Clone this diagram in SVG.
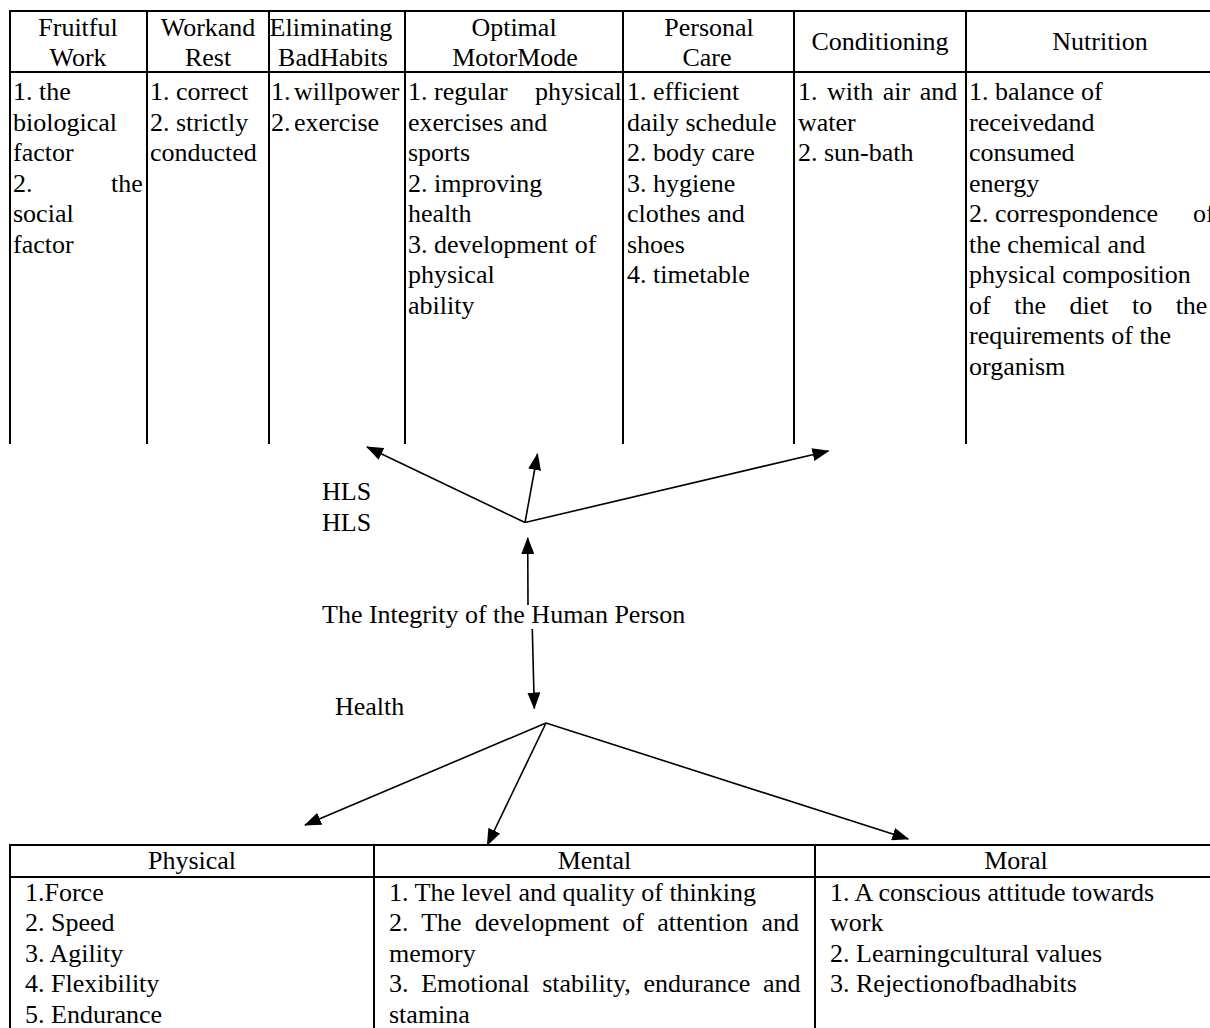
<svg xmlns="http://www.w3.org/2000/svg" width="1210" height="1028" viewBox="0 0 1210 1028">
<style>
text{font-family:"Liberation Serif","Times New Roman",serif;font-size:26px;fill:#000}
.c{text-anchor:middle}
.grid{stroke:#000;stroke-width:2;fill:none}
.conn{stroke:#000;stroke-width:1.6;fill:none;marker-end:url(#ah)}
</style>
<defs>
<marker id="ah" markerUnits="userSpaceOnUse" markerWidth="17" markerHeight="13" refX="16" refY="6.5" orient="auto">
<path d="M0,0 L17,6.5 L0,13 z" fill="#000"/>
</marker>
</defs>
<rect width="1210" height="1028" fill="#fff"/>

<g id="top-table">
<g class="grid">
<line x1="9" y1="11" x2="1210" y2="11"/>
<line x1="9" y1="72" x2="1210" y2="72"/>
<line x1="10" y1="10" x2="10" y2="444"/>
<line x1="147" y1="10" x2="147" y2="444"/>
<line x1="269" y1="10" x2="269" y2="444"/>
<line x1="405" y1="10" x2="405" y2="444"/>
<line x1="623" y1="10" x2="623" y2="444"/>
<line x1="794" y1="10" x2="794" y2="444"/>
<line x1="966" y1="10" x2="966" y2="444"/>
</g>
<g id="col-fruitful-work">
<text class="c" x="78" y="36">Fruitful</text>
<text class="c" x="78" y="66">Work</text>
<text x="13" y="100">1. the</text>
<text x="13" y="130.5">biological</text>
<text x="13" y="161">factor</text>
<text y="191.5"><tspan x="13">2.</tspan><tspan x="111">the</tspan></text>
<text x="13" y="222">social</text>
<text x="13" y="252.5">factor</text>
</g>
<g id="col-work-rest">
<text class="c" x="208" y="36">Workand</text>
<text class="c" x="208" y="66">Rest</text>
<text x="150" y="100">1. correct</text>
<text x="150" y="130.5">2. strictly</text>
<text x="150" y="161">conducted</text>
</g>
<g id="col-bad-habits">
<text class="c" x="331" y="36">Eliminating</text>
<text class="c" x="333" y="66">BadHabits</text>
<text x="271" y="100" word-spacing="-3">1. willpower</text>
<text x="271" y="130.5" word-spacing="-3">2. exercise</text>
</g>
<g id="col-motor-mode">
<text class="c" x="514" y="36">Optimal</text>
<text class="c" x="515" y="66">MotorMode</text>
<text y="100"><tspan x="408">1. regular</tspan><tspan x="535">physical</tspan></text>
<text x="408" y="130.5">exercises and</text>
<text x="408" y="161">sports</text>
<text x="408" y="191.5">2. improving</text>
<text x="408" y="222">health</text>
<text x="408" y="252.5">3. development of</text>
<text x="408" y="283">physical</text>
<text x="408" y="313.5">ability</text>
</g>
<g id="col-personal-care">
<text class="c" x="709" y="36">Personal</text>
<text class="c" x="707" y="66">Care</text>
<text x="627" y="100">1. efficient</text>
<text x="627" y="130.5">daily schedule</text>
<text x="627" y="161">2. body care</text>
<text x="627" y="191.5">3. hygiene</text>
<text x="627" y="222">clothes and</text>
<text x="627" y="252.5">shoes</text>
<text x="627" y="283">4. timetable</text>
</g>
<g id="col-conditioning">
<text class="c" x="880" y="50">Conditioning</text>
<text x="798" y="100" word-spacing="3">1. with air and</text>
<text x="798" y="130.5">water</text>
<text x="798" y="161">2. sun-bath</text>
</g>
<g id="col-nutrition">
<text class="c" x="1100" y="50">Nutrition</text>
<text x="969" y="100">1. balance of</text>
<text x="969" y="130.5">receivedand</text>
<text x="969" y="161">consumed</text>
<text x="969" y="191.5">energy</text>
<text y="222"><tspan x="969">2. correspondence</tspan><tspan x="1193">of</tspan></text>
<text x="969" y="252.5">the chemical and</text>
<text x="969" y="283">physical composition</text>
<text x="969" y="313.5" word-spacing="17">of the diet to the</text>
<text x="969" y="344">requirements of the</text>
<text x="969" y="374.5">organism</text>
</g>
</g>

<g id="hls">
<text x="322" y="500">HLS</text>
<text x="322" y="530.5">HLS</text>
</g>
<g id="integrity">
<text x="322" y="623">The Integrity of the Human Person</text>
</g>
<g id="health">
<text x="335" y="715">Health</text>
</g>

<g id="bottom-table">
<g class="grid">
<line x1="9" y1="845" x2="1210" y2="845"/>
<line x1="9" y1="877" x2="1210" y2="877"/>
<line x1="10" y1="844" x2="10" y2="1028"/>
<line x1="374" y1="844" x2="374" y2="1028"/>
<line x1="815" y1="844" x2="815" y2="1028"/>
</g>
<g id="col-physical">
<text class="c" x="192" y="869">Physical</text>
<text x="25" y="900.5">1.Force</text>
<text x="25" y="931">2. Speed</text>
<text x="25" y="961.5">3. Agility</text>
<text x="25" y="992">4. Flexibility</text>
<text x="25" y="1022.5">5. Endurance</text>
</g>
<g id="col-mental">
<text class="c" x="594.5" y="869">Mental</text>
<text x="389" y="900.5">1. The level and quality of thinking</text>
<text x="389" y="931" word-spacing="6.7">2. The development of attention and</text>
<text x="389" y="961.5">memory</text>
<text x="389" y="992" word-spacing="6.2">3. Emotional stability, endurance and</text>
<text x="389" y="1022.5">stamina</text>
</g>
<g id="col-moral">
<text class="c" x="1016" y="869">Moral</text>
<text x="830" y="900.5">1. A conscious attitude towards</text>
<text x="830" y="931">work</text>
<text x="830" y="961.5">2. Learningcultural values</text>
<text x="830" y="992">3. Rejectionofbadhabits</text>
</g>
</g>

<g id="connectors">
<line class="conn" x1="525" y1="522.5" x2="367" y2="447"/>
<line class="conn" x1="525" y1="522.5" x2="537.5" y2="454"/>
<line class="conn" x1="525" y1="522.5" x2="828.5" y2="451"/>
<line class="conn" x1="528" y1="605" x2="527.7" y2="538"/>
<line class="conn" x1="532.3" y1="629" x2="534.3" y2="708.5"/>
<line class="conn" x1="546" y1="723" x2="305" y2="825"/>
<line class="conn" x1="546" y1="723" x2="487.3" y2="845"/>
<line class="conn" x1="546" y1="723" x2="908.3" y2="839"/>
</g>
</svg>
